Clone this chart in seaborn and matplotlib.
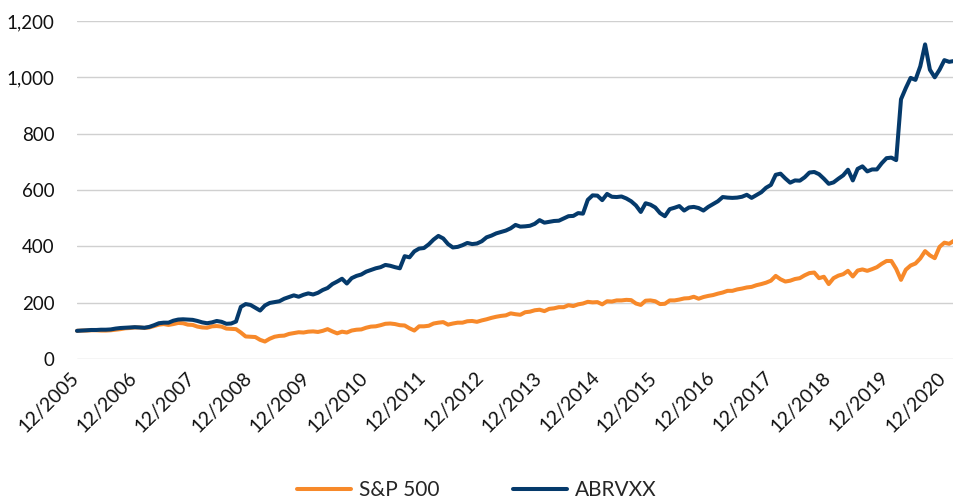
import pandas as pd
import matplotlib.pyplot as plt
import matplotlib.transforms as mtransforms
import seaborn as sns

# Valores mensuales (base 100 en 12/2005)
sp500 = [
    100, 101, 101, 102, 102, 101, 101, 102, 104, 106,
    109, 110, 112, 112, 110, 112, 117, 122, 124, 121,
    124, 128, 127, 122, 121, 115, 112, 111, 116, 117,
    115, 108, 107, 106, 94, 80, 79, 78, 68, 62,
    72, 79, 82, 83, 89, 92, 95, 94, 97, 98,
    96, 100, 106, 98, 91, 97, 94, 101, 104, 105,
    111, 115, 116, 120, 125, 126, 124, 120, 119, 109,
    101, 116, 116, 118, 126, 129, 131, 122, 126, 129,
    129, 134, 135, 132, 137, 141, 146, 150, 153, 155,
    162, 159, 157, 166, 168, 173, 175, 170, 178, 180,
    184, 184, 191, 188, 194, 197, 203, 201, 202, 194,
    205, 204, 208, 208, 210, 209, 197, 192, 207, 208,
    205, 195, 196, 208, 208, 211, 215, 216, 221, 214,
    220, 224, 227, 232, 236, 242, 242, 247, 250, 254,
    256, 262, 266, 271, 278, 295, 283, 275, 278, 284,
    287, 297, 305, 307, 287, 292, 266, 287, 296, 301,
    313, 293, 314, 318, 313, 319, 326, 338, 348, 348,
    320, 281, 317, 332, 339, 357, 383, 368, 358, 398,
    413, 409, 420,
]

abrvxx = [
    100, 101, 102, 103, 103, 104, 104, 105, 108, 110,
    111, 112, 113, 112, 111, 114, 120, 127, 129, 129,
    136, 140, 141, 140, 139, 135, 130, 127, 130, 135,
    132, 125, 126, 133, 185, 195, 192, 182, 172, 190,
    199, 202, 205, 214, 220, 226, 221, 228, 233, 229,
    235, 245, 252, 266, 275, 285, 268, 287, 295, 300,
    310, 316, 322, 326, 334, 331, 326, 322, 365, 361,
    382, 392, 394, 407, 424, 437, 428, 408, 396, 398,
    404, 412, 408, 410, 418, 432, 438, 446, 451, 456,
    464, 476, 470, 471, 473, 480, 493, 484, 487, 490,
    491, 499, 507, 508, 518, 516, 565, 581, 580, 564,
    586, 576, 575, 577, 570, 560, 545, 522, 553, 548,
    538, 518, 507, 532, 537, 543, 527, 538, 540, 536,
    527, 540, 550, 560, 575, 573, 572, 573, 576, 583,
    572, 582, 592, 608, 618, 654, 658, 641, 626, 634,
    633, 645, 662, 664, 656, 640, 622, 627, 640, 652,
    672, 634, 675, 684, 666, 673, 673, 695, 713, 715,
    706, 922, 962, 998, 991, 1039, 1117, 1027, 1000, 1027,
    1061, 1055, 1058,
]

tick_labels = ["12/2005", "12/2006", "12/2007", "12/2008", "12/2009", "12/2010",
               "12/2011", "12/2012", "12/2013", "12/2014", "12/2015", "12/2016",
               "12/2017", "12/2018", "12/2019", "12/2020"]
y_ticks = [0, 200, 400, 600, 800, 1000, 1200]

series_names = ["S&P 500", "ABRVXX"]
colores = {"S&P 500": "#F7892A", "ABRVXX": "#053A6B"}

# Tabla en formato largo para seaborn
df = pd.DataFrame({
    "mes": list(range(len(sp500))) + list(range(len(abrvxx))),
    "valor": sp500 + abrvxx,
    "serie": [series_names[0]] * len(sp500) + [series_names[1]] * len(abrvxx),
})

sns.set_style("white")
plt.rcParams["font.family"] = ["Lato", "DejaVu Sans"]

fig = plt.figure(figsize=(9.54, 5.0), dpi=100)
ax = fig.add_axes([0.0807, 0.282, 0.9193, 0.676])

sns.lineplot(data=df, x="mes", y="valor", hue="serie", palette=colores,
             hue_order=series_names, linewidth=2.9, ax=ax, legend=True)
for ln in ax.lines:
    ln.set_clip_on(False)
    ln.set_solid_joinstyle("round")

ax.set_xlim(0, len(sp500) - 1)
ax.set_ylim(0, 1200)
ax.set_yticks(y_ticks)
ax.set_yticklabels([f"{v:,}" for v in y_ticks])
ax.set_xticks(range(0, 12 * len(tick_labels), 12))
ax.set_xticklabels(tick_labels, rotation=45, ha="right", va="top",
                   rotation_mode="anchor")
ax.tick_params(axis="y", length=0, pad=16, labelsize=13.5, colors="#111111")
ax.tick_params(axis="x", length=0, pad=7, labelsize=14.0, colors="#111111")
ax.set_xlabel("")
ax.set_ylabel("")

# pequeño desplazamiento a la izquierda para que 12/2020 quepa
shift = mtransforms.ScaledTranslation(-5 / 72, 0, fig.dpi_scale_trans)
for lbl in ax.get_xticklabels():
    lbl.set_transform(lbl.get_transform() + shift)

ax.grid(axis="y", color="#D0D0D0", linewidth=1.0)
ax.set_axisbelow(True)
sns.despine(ax=ax, left=True, bottom=True)

handles, labels = ax.get_legend_handles_labels()
ax.legend(handles, labels, loc="center", bbox_to_anchor=(0.5, 0.02),
          bbox_transform=fig.transFigure, ncol=2, frameon=False,
          fontsize=15, handlelength=2.6, handletextpad=0.4,
          columnspacing=3.5)

plt.savefig("out.png", dpi=100)
plt.close()
